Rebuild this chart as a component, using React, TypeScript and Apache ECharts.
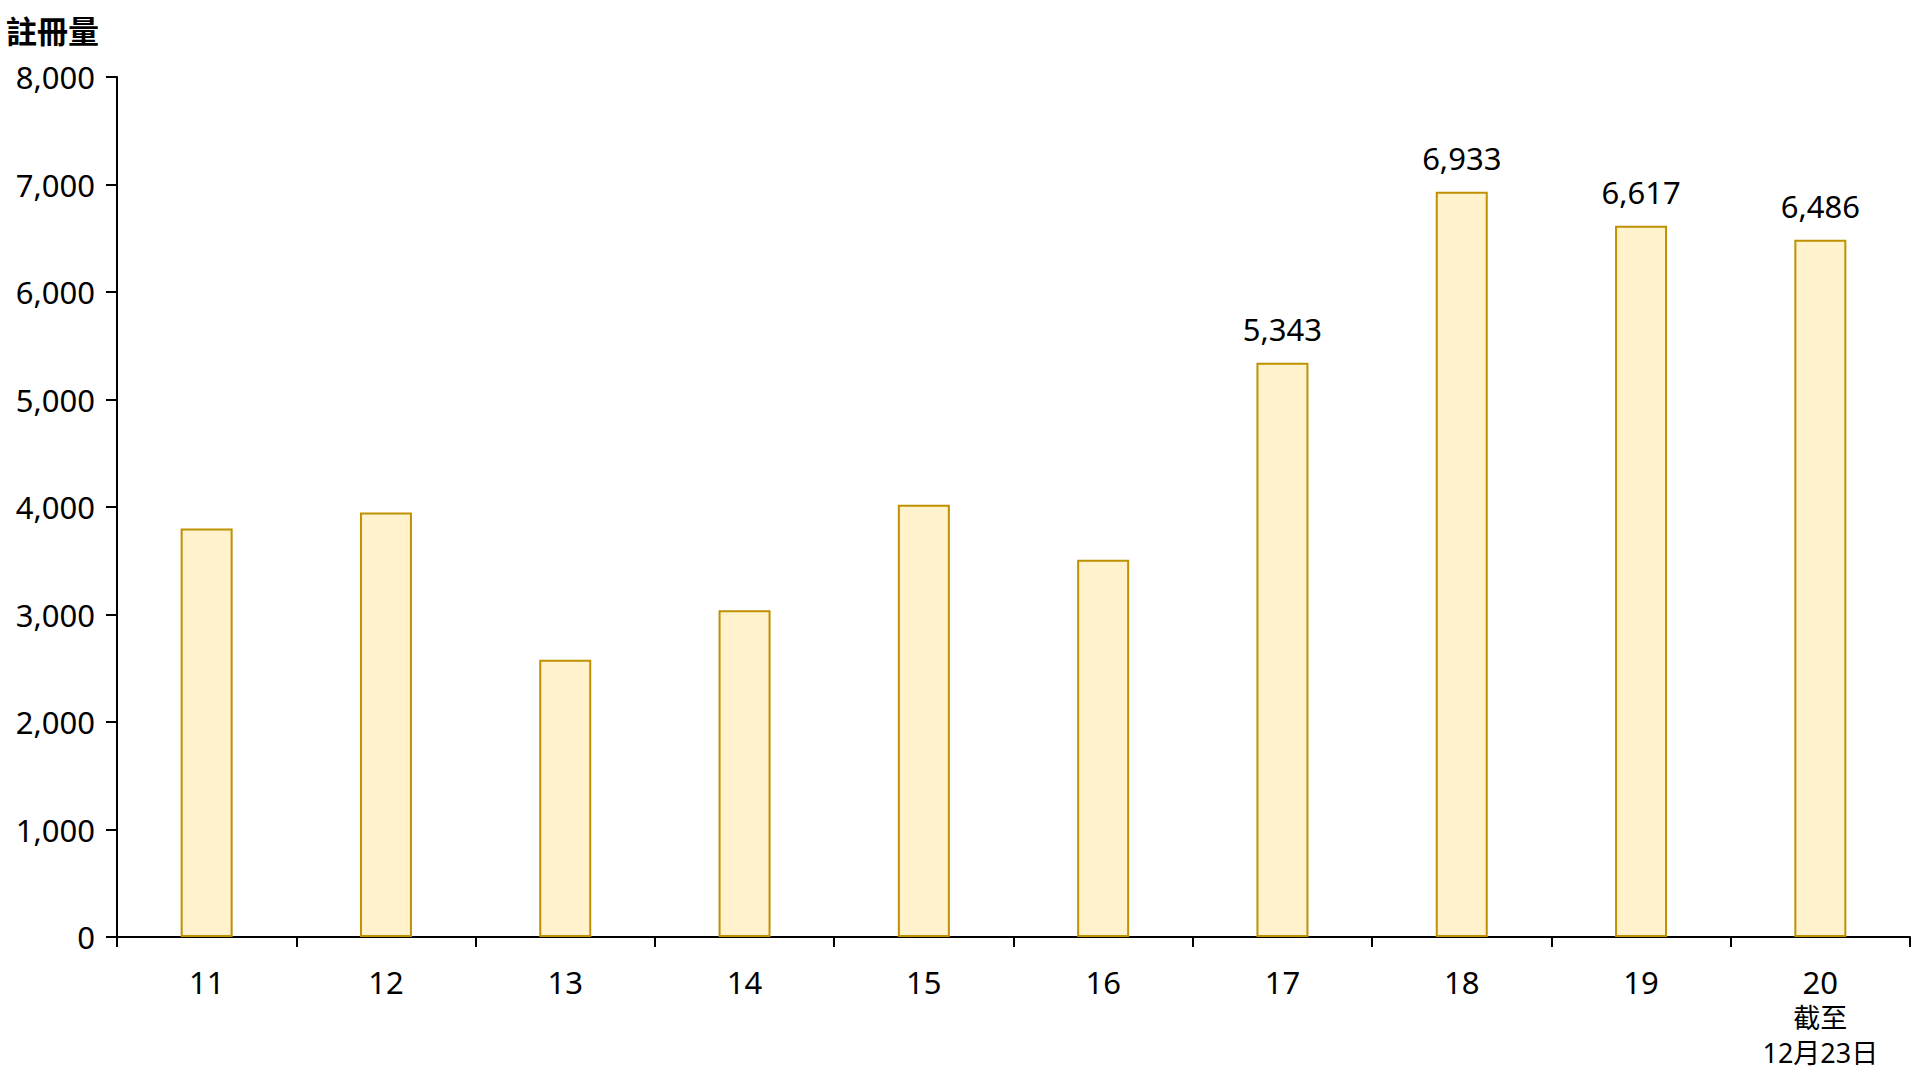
import React, { useEffect, useRef } from "react";
import * as echarts from "echarts";

const categories = ["11", "12", "13", "14", "15", "16", "17", "18", "19", "20"];
const categoryNotes = ["", "", "", "", "", "", "", "", "", "截至\n12月23日"];
const registrations = [3800, 3950, 2580, 3040, 4020, 3510, 5343, 6933, 6617, 6486];
const labelledIndices = [6, 7, 8, 9];
const yTicks = [0, 1000, 2000, 3000, 4000, 5000, 6000, 7000, 8000];
const yAxisTitle = "註冊量";

const FONT = "'Noto Sans', 'Noto Sans CJK TC', sans-serif";

export default function App() {
  const ref = useRef<HTMLDivElement>(null);

  useEffect(() => {
    if (!ref.current) return;
    const chart = echarts.init(ref.current, null, { renderer: "svg" });
    const catLabels = categories.map((c, i) =>
      categoryNotes[i] ? `${c}\n${categoryNotes[i]}` : c
    );
    chart.setOption({
      animation: false,
      backgroundColor: "#ffffff",
      textStyle: { fontFamily: FONT },
      graphic: [
        {
          type: "text",
          left: 6,
          top: 15,
          style: {
            text: yAxisTitle,
            font: `bold 31px ${FONT}`,
            fill: "#000000",
          },
        },
      ],
      grid: { left: 117, right: 10, top: 77, bottom: 143, containLabel: false },
      xAxis: {
        type: "category",
        data: catLabels,
        axisLine: { show: true, lineStyle: { color: "#000000", width: 2 } },
        axisTick: { show: true, alignWithLabel: false, length: 10, lineStyle: { color: "#000000", width: 2 } },
        axisLabel: {
          margin: 27,
          formatter: (v: string) => {
            const parts = v.split("\n");
            const first = `{a|${parts[0]}}`;
            const rest = parts.slice(1).map((p) => `{b|${p}}`);
            return [first, ...rest].join("\n");
          },
          rich: {
            a: { fontSize: 31, lineHeight: 36, color: "#000000", fontFamily: FONT },
            b: { fontSize: 27, lineHeight: 35, color: "#000000", fontFamily: FONT },
          },
        },
      },
      yAxis: {
        type: "value",
        min: yTicks[0],
        max: yTicks[yTicks.length - 1],
        interval: yTicks[1] - yTicks[0],
        splitLine: { show: false },
        axisLine: { show: true, lineStyle: { color: "#000000", width: 2 } },
        axisTick: { show: true, length: 11, lineStyle: { color: "#000000", width: 2 } },
        axisLabel: {
          margin: 22,
          fontSize: 31,
          color: "#000000",
          fontFamily: FONT,
          formatter: (v: number) => v.toLocaleString("en-US"),
        },
      },
      series: [
        {
          type: "bar",
          barWidth: "29%",
          data: registrations.map((v, i) => ({
            value: v,
            label: { show: labelledIndices.includes(i) },
          })),
          itemStyle: { color: "#FFF2CC", borderColor: "#BF9000", borderWidth: 2 },
          label: {
            show: false,
            position: "top",
            distance: 18,
            fontSize: 31,
            color: "#000000",
            fontFamily: FONT,
            formatter: (p: any) => Number(p.value).toLocaleString("en-US"),
          },
        },
      ],
    });
    return () => chart.dispose();
  }, []);

  return (
    <div
      ref={ref}
      style={{ position: "absolute", left: 0, top: 0, width: 1920, height: 1080 }}
    />
  );
}
